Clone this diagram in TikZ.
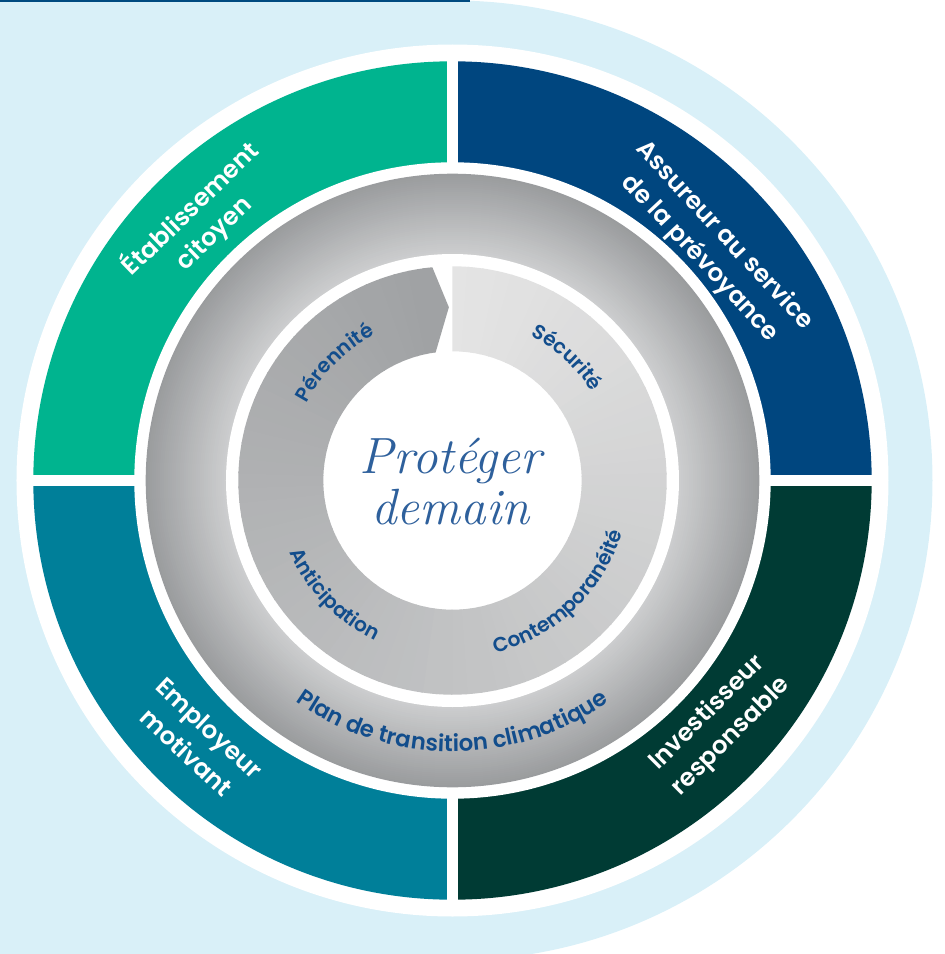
\documentclass[tikz,border=0pt]{standalone}
\usepackage{fontspec}
\setsansfont{Poppins}[BoldFont={* SemiBold}]
\usetikzlibrary{decorations.text}

\definecolor{paleblue}{HTML}{D9F0F8}
\definecolor{topline}{HTML}{004A80}
\definecolor{citgreen}{HTML}{00B48F}
\definecolor{assnavy}{HTML}{00467F}
\definecolor{invgreen}{HTML}{003B34}
\definecolor{empteal}{HTML}{007F99}
\definecolor{lblblue}{HTML}{124D8C}
\definecolor{titleblue}{HTML}{2E609C}
\definecolor{ringlight}{HTML}{CDCECF}
\definecolor{ringdark}{HTML}{9A9C9E}
\definecolor{seglight}{HTML}{E4E4E4}
\definecolor{segdark}{HTML}{A0A2A4}

\tikzset{
  quadlabel/.style={text=white,align=center,
    font=\sffamily\bfseries\fontsize{14}{19}\selectfont},
  arclabel/.style 2 args={decorate,decoration={text along path,
    text align=center,text color=lblblue,
    text={|\sffamily\bfseries\fontsize{#1}{13}\selectfont|#2}}}
}

\begin{document}
\begin{tikzpicture}[x=0.02cm,y=0.02cm]
\useasboundingbox (-452.5,-473.5) rectangle (491.5,480.5);
% fond
\fill[paleblue] (-452.5,-473.5) rectangle (0,480.5);
\fill[paleblue] (0,0) circle (480);
\fill[topline] (-452.5,478.6) rectangle (18,480.5);
\fill[white] (0,0) circle (436);
% anneau des quatre engagements
\fill[citgreen] (0,0) -- (90:419.2) arc[start angle=90,end angle=180,radius=419.2] -- cycle;
\fill[assnavy] (0,0) -- (0:419.2) arc[start angle=0,end angle=90,radius=419.2] -- cycle;
\fill[invgreen] (0,0) -- (-90:419.2) arc[start angle=-90,end angle=0,radius=419.2] -- cycle;
\fill[empteal] (0,0) -- (180:419.2) arc[start angle=180,end angle=270,radius=419.2] -- cycle;
\draw[white,line width=0.22cm] (-425,0) -- (425,0);
\draw[white,line width=0.22cm] (0,-425) -- (0,425);
\fill[white] (0,0) circle (318.2);
% anneau gris
\foreach \k in {0,...,40} {
  \pgfmathtruncatemacro\p{100-2.5*\k}
  \pgfmathsetmacro\r{306.8-2*\k}
  \fill[ringdark!\p!ringlight] (0,0) circle (\r);
}
\fill[white] (0,0) circle (226.5);
% cycle interieur
\foreach \k in {0,...,87} {
  \pgfmathsetmacro\a{90-4*\k}
  \pgfmathsetmacro\b{\a-4.4}
  \pgfmathtruncatemacro\p{100*\k/87}
  \fill[segdark!\p!seglight] (\a:129.2) -- (\a:214.2)
    arc[start angle=\a,end angle=\b,radius=214.2] -- (\b:129.2)
    arc[start angle=\b,end angle=\a,radius=129.2] -- cycle;
}
\fill[segdark] (-262:129.2) -- (-262:214.2)
  arc[start angle=-262,end angle=-264.6,radius=214.2] -- (-268.8:173.3)
  -- (-262.5:129.2) arc[start angle=-262.5,end angle=-262,radius=129.2] -- cycle;
% textes
\node[quadlabel,rotate=44] (citoyen) at (134:361) {Établissement\\citoyen};
\node[quadlabel,rotate=-47] (assureur) at (42:349) {Assureur au service\\de la prévoyance};
\node[quadlabel,rotate=-43] (employeur) at (-134.4:363.5) {Employeur\\motivant};
\node[quadlabel,rotate=45] (investisseur) at (-42.5:361.7) {Investisseur\\responsable};
\node[text=titleblue,align=center,font=\itshape\fontsize{29}{29}\selectfont] (titre) at (-2,-1) {Protéger\\demain};
\path[arclabel={11.5}{Sécurité}] (87:165) arc[start angle=87,end angle=7,radius=165];
\path[arclabel={11.5}{Pérennité}] (175:165) arc[start angle=175,end angle=95,radius=165];
\path[arclabel={11.5}{Contemporanéité}] (-96.5:178) arc[start angle=-96.5,end angle=3.5,radius=178];
\path[arclabel={11.5}{Anticipation}] (-186:178) arc[start angle=-186,end angle=-86,radius=178];
\path[arclabel={13}{Plan de transition climatique}] (-150:271) arc[start angle=-150,end angle=-30,radius=271];
\end{tikzpicture}
\end{document}
